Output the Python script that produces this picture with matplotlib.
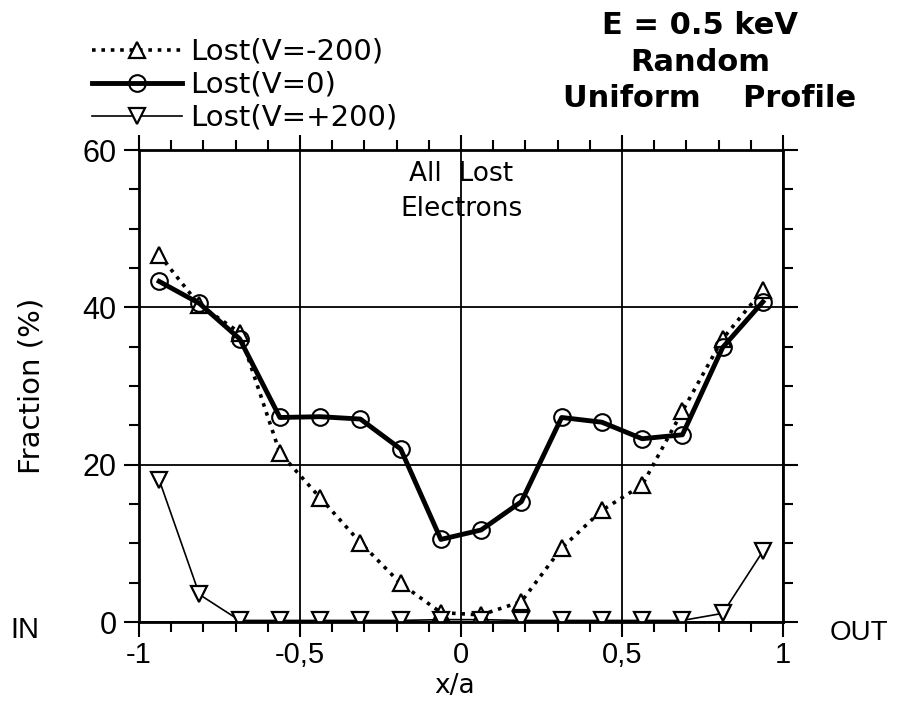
import numpy as np
import matplotlib
matplotlib.use('Agg')
import matplotlib.pyplot as plt
from matplotlib.ticker import MultipleLocator, FixedFormatter, FixedLocator

# x/a positions of the 16 sampling points
xa = [-0.9375, -0.8125, -0.6875, -0.5625, -0.4375, -0.3125, -0.1875, -0.0625,
      0.0625, 0.1875, 0.3125, 0.4375, 0.5625, 0.6875, 0.8125, 0.9375]

# lost fraction (%) for each bias voltage
lost_m200 = [46.7, 40.3, 36.8, 21.5, 15.8, 10.1, 4.9, 1.2,
             0.9, 2.6, 9.4, 14.2, 17.4, 26.8, 36.0, 42.2]
lost_0 = [43.3, 40.5, 36.0, 26.0, 26.1, 25.8, 22.0, 10.5,
          11.7, 15.3, 26.0, 25.4, 23.3, 23.8, 34.9, 40.7]
lost_p200 = [18.1, 3.5, 0.2, 0.2, 0.2, 0.2, 0.2, 0.3,
             0.3, 0.2, 0.2, 0.2, 0.2, 0.2, 1.1, 9.0]

xticks = [-1, -0.5, 0, 0.5, 1]
xticklabels = ['-1', '-0,5', '0', '0,5', '1']
yticks = [0, 20, 40, 60]

plt.rcParams['font.family'] = ['DejaVu Sans']

fig = plt.figure(figsize=(8.99, 7.03), dpi=100)
ax = fig.add_axes([0.1546, 0.1152, 0.7164, 0.6714])

l1, = ax.plot(xa, lost_m200, color='black', linestyle=(0, (1, 1.6)), lw=2.6,
              marker='^', ms=11, mfc='white', mec='black', mew=1.6)
l2, = ax.plot(xa, lost_0, color='black', linestyle='-', lw=3.5,
              marker='o', ms=12, mfc='none', mec='black', mew=1.5)
l3, = ax.plot(xa, lost_p200, color='black', linestyle='-', lw=1.2,
              marker='v', ms=11, mfc='white', mec='black', mew=1.6)

ax.set_xlim(-1, 1)
ax.set_ylim(0, 60)
ax.xaxis.set_major_locator(FixedLocator(xticks))
ax.xaxis.set_major_formatter(FixedFormatter(xticklabels))
ax.xaxis.set_minor_locator(MultipleLocator(0.1))
ax.yaxis.set_major_locator(FixedLocator(yticks))
ax.yaxis.set_minor_locator(MultipleLocator(5))
ax.tick_params(which='both', direction='out', top=True, right=True,
               labeltop=False, labelright=False, width=1.5)
ax.tick_params(which='major', length=11, labelsize=22, pad=5)
ax.tick_params(axis='x', which='major', labelsize=21, pad=3)
ax.tick_params(which='minor', length=7)
for lab in ax.get_xticklabels() + ax.get_yticklabels():
    lab.set_family('Liberation Sans')
ax.grid(True, which='major', color='black', lw=1.3)
for sp in ax.spines.values():
    sp.set_linewidth(2)

ax.set_xlabel('x/a', fontsize=19)
ax.set_ylabel('Fraction (%)', fontsize=21)
ax.xaxis.set_label_coords(0.49, -0.108)
ax.yaxis.set_label_coords(-0.145, 0.5)

ax.text(0, 57, 'All  Lost', ha='center', va='center', fontsize=19)
ax.text(0, 52.5, 'Electrons', ha='center', va='center', fontsize=19)

fig.text(0.779, 0.964, 'E = 0.5 keV', ha='center', va='center', fontsize=22, weight='bold')
fig.text(0.779, 0.911, 'Random', ha='center', va='center', fontsize=22, weight='bold')
fig.text(0.789, 0.860, 'Uniform    Profile', ha='center', va='center', fontsize=22, weight='bold')

fig.text(0.028, 0.104, 'IN', ha='center', va='center', fontsize=21, family='Liberation Sans')
fig.text(0.955, 0.100, 'OUT', ha='center', va='center', fontsize=20, family='Liberation Sans')

fig.legend([l1, l2, l3], ['Lost(V=-200)', 'Lost(V=0)', 'Lost(V=+200)'],
           loc='upper left', bbox_to_anchor=(0.102, 0.946), frameon=False,
           fontsize=21, handlelength=3.1, handletextpad=0.28, labelspacing=0.17,
           borderaxespad=0, borderpad=0, numpoints=1)

fig.savefig('out.png', dpi=100)
